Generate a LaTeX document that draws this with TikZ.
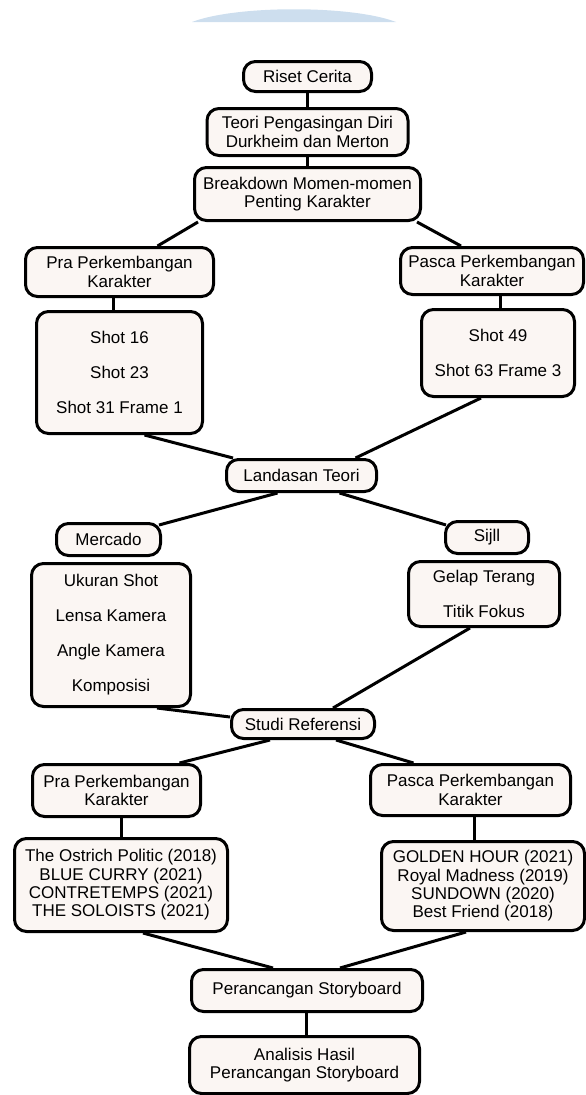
\documentclass[tikz,border=0pt]{standalone}
\usepackage{fontspec}
\setmainfont{Liberation Sans}
\usepackage{xcolor}
\definecolor{boxfill}{RGB}{251,246,243}
\definecolor{wmarkblue}{RGB}{205,222,238}
\usetikzlibrary{positioning,backgrounds}

\begin{document}
\begin{tikzpicture}[
    x=1pt, y=-1pt,
    box/.style={rectangle, draw=black, fill=boxfill, rounded corners=12pt, line width=3pt, align=center, inner sep=1pt, font=\fontsize{17}{18.3}\selectfont},
    list/.style={box, font=\fontsize{17}{35}\selectfont},
    link/.style={line width=3pt, black}
]
\path[use as bounding box] (0,0) rectangle (586,1095);

% Watermark
\fill[wmarkblue] (192,22) .. controls (236,5) and (352,5) .. (396,22) -- cycle;

% Riset
\node[box, minimum width=128pt, minimum height=30pt] (riset) at (307.5,76.5) {Riset Cerita};
\node[box, minimum width=201pt, minimum height=47pt, below=14pt of riset] (teori) {Teori Pengasingan Diri\\Durkheim dan Merton};
\node[box, minimum width=226pt, minimum height=53pt, below=9pt of teori] (bd) {Breakdown Momen-momen\\Penting Karakter};

% Momen karakter
\node[box, minimum width=188pt, minimum height=49pt] (pra1) at (119.5,272) {Pra Perkembangan\\Karakter};
\node[box, minimum width=183pt, minimum height=47pt] (pasca1) at (492,271) {Pasca Perkembangan\\Karakter};
\node[list, minimum width=166pt, minimum height=122pt, below=12pt of pra1] (shot16) {Shot 16\\Shot 23\\Shot 31 Frame 1};
\node[list, minimum width=153pt, minimum height=87pt, below=12pt of pasca1, xshift=6pt] (shot49) {Shot 49\\Shot 63 Frame 3};

% Landasan Teori
\node[box, minimum width=150pt, minimum height=32pt] (lt) at (301.5,475.5) {Landasan Teori};
\node[box, minimum width=104pt, minimum height=32pt] (mercado) at (108.5,539.5) {Mercado};
\node[box, minimum width=83pt, minimum height=32pt] (sijll) at (487,537.5) {Sijll};
\node[list, minimum width=159pt, minimum height=143pt, below=5pt of mercado, xshift=2.5pt] (ukuran) {Ukuran Shot\\Lensa Kamera\\Angle Kamera\\Komposisi};
\node[list, minimum width=151pt, minimum height=65pt, below=5pt of sijll, xshift=-3pt] (gelap) {Gelap Terang\\Titik Fokus};

% Studi Referensi
\node[box, minimum width=143pt, minimum height=29pt] (studi) at (303,724) {Studi Referensi};
\node[box, minimum width=168pt, minimum height=52pt] (pra2) at (116.5,790.5) {Pra Perkembangan\\Karakter};
\node[box, minimum width=200pt, minimum height=51pt] (pasca2) at (470.5,790) {Pasca Perkembangan\\Karakter};
\node[box, minimum width=213pt, minimum height=93pt, below=19pt of pra2, xshift=4.5pt] (ostrich) {The Ostrich Politic (2018)\\BLUE CURRY (2021)\\CONTRETEMPS (2021)\\THE SOLOISTS (2021)};
\node[box, minimum width=203pt, minimum height=89pt, below=23pt of pasca2, xshift=12.5pt] (golden) {GOLDEN HOUR (2021)\\Royal Madness (2019)\\SUNDOWN (2020)\\Best Friend (2018)};

% Perancangan
\node[box, minimum width=231pt, minimum height=42pt] (peran) at (307,990.5) {Perancangan Storyboard};
\node[box, minimum width=230pt, minimum height=57pt, below=22pt of peran, xshift=-2.5pt] (analisis) {Analisis Hasil\\Perancangan Storyboard};

% Links
\begin{scope}[on background layer]
\draw[link] (riset) -- (teori);
\draw[link] (teori) -- (bd);
\draw[link] ([xshift=5pt]bd.south west) -- ([xshift=38pt]pra1.north);
\draw[link] ([xshift=-5pt]bd.south east) -- ([xshift=-31pt]pasca1.north);
\draw[link] ([xshift=-6pt]pra1.south) -- ([xshift=-6pt]shot16.north);
\draw[link] ([xshift=8pt]pasca1.south) -- ([xshift=2pt]shot49.north);
\draw[link] ([xshift=25pt]shot16.south) -- ([xshift=8pt]lt.north west);
\draw[link] ([xshift=-17pt]shot49.south) -- ([xshift=54pt]lt.north);
\draw[link] ([xshift=-24pt]lt.south) -- ([shift={(-3pt,-3pt)}]mercado.north east);
\draw[link] ([xshift=38pt]lt.south) -- ([shift={(2pt,-5pt)}]sijll.north west);
\draw[link] ([xshift=46pt]ukuran.south) -- ([yshift=7pt]studi.west);
\draw[link] ([xshift=-14pt]gelap.south) -- ([xshift=30pt]studi.north);
\draw[link] ([xshift=-33pt]studi.south) -- ([xshift=63pt]pra2.north);
\draw[link] ([xshift=33pt]studi.south) -- ([xshift=-57pt]pasca2.north);
\draw[link] ([xshift=4.5pt]pra2.south) -- (ostrich.north);
\draw[link] ([xshift=3.5pt]pasca2.south) -- ([xshift=-9pt]golden.north);
\draw[link] ([xshift=22pt]ostrich.south) -- ([xshift=-34pt]peran.north);
\draw[link] ([xshift=-17pt]golden.south) -- ([xshift=33pt]peran.north);
\draw[link] ([xshift=-1pt]peran.south) -- ([xshift=1.5pt]analisis.north);
\end{scope}
\end{tikzpicture}
\end{document}
